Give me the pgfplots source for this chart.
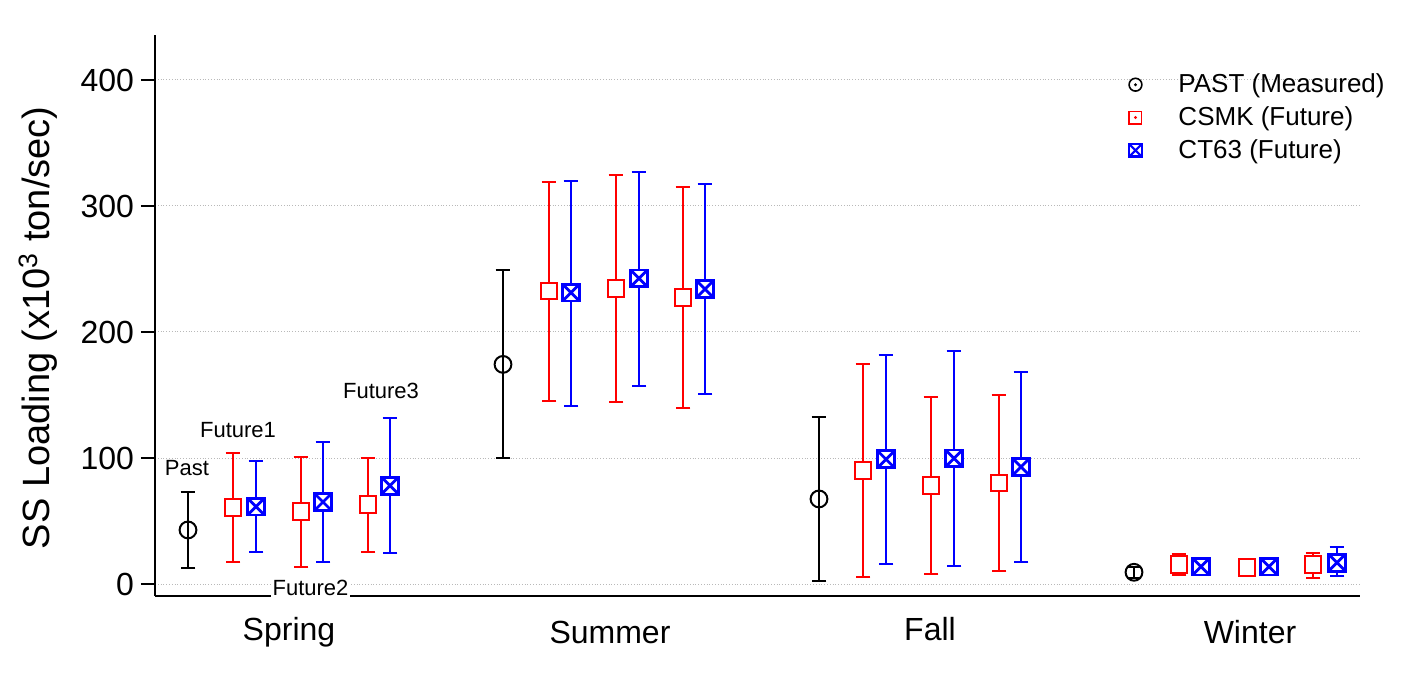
\documentclass[border=0pt]{standalone}
\usepackage{pgfplots}
\pgfplotsset{compat=1.18}
\usepackage{pgfplotstable}
\usepackage{fontspec}
\setmainfont{Liberation Sans}

\pgfdeclareplotmark{sqx}{%
  \pgfpathrectangle{\pgfqpoint{-\pgfplotmarksize}{-\pgfplotmarksize}}{\pgfqpoint{2\pgfplotmarksize}{2\pgfplotmarksize}}%
  \pgfusepathqfillstroke
  \pgfpathmoveto{\pgfqpoint{-\pgfplotmarksize}{-\pgfplotmarksize}}\pgfpathlineto{\pgfqpoint{\pgfplotmarksize}{\pgfplotmarksize}}%
  \pgfpathmoveto{\pgfqpoint{-\pgfplotmarksize}{\pgfplotmarksize}}\pgfpathlineto{\pgfqpoint{\pgfplotmarksize}{-\pgfplotmarksize}}%
  \pgfusepathqstroke}
\pgfdeclareplotmark{sqdot}{%
  \pgfpathrectangle{\pgfqpoint{-\pgfplotmarksize}{-\pgfplotmarksize}}{\pgfqpoint{2\pgfplotmarksize}{2\pgfplotmarksize}}%
  \pgfusepathqfillstroke
  \pgfpathcircle{\pgfpointorigin}{0.25pt}\pgfusepathqstroke}
\pgfdeclareplotmark{odot}{%
  \pgfpathcircle{\pgfpointorigin}{\pgfplotmarksize}\pgfusepathqfillstroke
  \pgfpathcircle{\pgfpointorigin}{0.25pt}\pgfusepathqstroke}

% x = horizontal position of each estimate, y = mean, hi/lo = ends of the range
\pgfplotstableread{
x    y     hi    lo
188  42.9  73.0  12.7
503  174.3 249.5 99.7
819  67.5  132.5 2.6
1134 9.3   13.5  5.0
}\past
\pgfplotstableread{
x    y     hi    lo
233  60.6  104.2 17.2
301  57.4  101.0 13.8
368  63.0  100.3 25.7
549  232.5 318.8 145.5
616  234.6 324.6 144.7
683  227.5 315.0 139.4
863  90.0  174.6 5.3
931  78.0  148.2 7.9
999  80.2  150.3 10.3
1179 15.6  23.6  7.1
1247 13.2  17.5  9.0
1313 15.6  24.4  5.0
}\csmk
\pgfplotstableread{
x    y     hi    lo
256  61.4  97.6  25.1
323  65.1  112.7 17.7
390  78.0  131.7 24.9
571  231.2 320.1 141.5
639  242.6 327.2 157.1
705  234.1 317.7 150.8
886  99.0  181.7 15.6
954  99.7  185.2 14.0
1021 92.9  168.5 17.7
1201 13.8  18.5  9.0
1269 13.8  18.5  9.0
1337 16.9  29.1  6.3
}\ctsix

\begin{document}
\begin{tikzpicture}
\begin{axis}[
  scale only axis,
  width=602.5pt, height=280.5pt,
  xmin=155, xmax=1360,
  ymin=-9.52, ymax=435.7,
  axis x line=bottom, axis y line=left,
  axis line style={-, line width=1pt, black},
  xtick={289,610,930,1250},
  xticklabels={Spring,{\raisebox{-1.5pt}{Summer}},Fall,{\raisebox{-1.5pt}{Winter}}},
  x tick style={draw=none},
  xticklabel style={font=\fontsize{16}{19}\selectfont, anchor=base, yshift=-15pt},
  ytick={0,100,200,300,400},
  y tick style={line width=1pt, black},
  tick align=outside,
  major tick length=7pt,
  yticklabel style={font=\fontsize{16}{19}\selectfont},
  /pgf/number format/assume math mode=true,
  ymajorgrids,
  grid style={densely dotted, gray!55, line width=0.5pt},
  ylabel={SS Loading (x10\textsuperscript{3} ton/sec)},
  ylabel style={font=\fontsize{19}{22}\selectfont, at={(axis description cs:-0.097,0.478)}, anchor=center},
  legend style={draw=none, fill=none, at={(axis cs:1112,411.6)}, anchor=north west,
    font=\fontsize{13}{15}\selectfont, row sep=1.5pt, cells={anchor=west}},
  legend image code/.code={%
    \path[draw=none, fill=none] (0cm,0cm) -- (0.3cm+19.5pt,0cm);
    \draw[#1] plot[only marks] coordinates {(0.3cm,0cm)};},
  error bars/y dir=both, error bars/y explicit,
  error bars/error bar style={line width=1pt},
  error bars/error mark options={rotate=90, mark size=3.7pt, line width=1pt},
]
\addplot[black, only marks, mark=o, mark size=4.2pt, line width=1pt, mark options={fill=white},
  forget plot]
  table[x=x, y=y, y error plus expr=\thisrow{hi}-\thisrow{y}, y error minus expr=\thisrow{y}-\thisrow{lo}] {\past};
\addplot[red, only marks, mark=square*, mark size=4.2pt, line width=1pt, mark options={fill=white},
  forget plot]
  table[x=x, y=y, y error plus expr=\thisrow{hi}-\thisrow{y}, y error minus expr=\thisrow{y}-\thisrow{lo}] {\csmk};
\addplot[blue, only marks, mark=sqx, mark size=4.2pt, line width=1pt, mark options={fill=white, line width=1.4pt},
  forget plot]
  table[x=x, y=y, y error plus expr=\thisrow{hi}-\thisrow{y}, y error minus expr=\thisrow{y}-\thisrow{lo}] {\ctsix};

\addlegendimage{black, mark=odot, mark size=3.2pt, line width=0.8pt, mark options={fill=white}}
\addlegendentry{PAST (Measured)}
\addlegendimage{red, mark=sqdot, mark size=3.1pt, line width=0.8pt, mark options={fill=white}}
\addlegendentry{CSMK (Future)}
\addlegendimage{blue, mark=sqx, mark size=3.1pt, line width=1.1pt, mark options={fill=white}}
\addlegendentry{CT63 (Future)}

\node[font=\fontsize{11}{13}\selectfont] at (axis cs:187,92) {Past};
\node[font=\fontsize{11}{13}\selectfont] at (axis cs:238,122) {Future1};
\node[font=\fontsize{11}{13}\selectfont, fill=white, inner sep=1pt] at (axis cs:310.5,-3.2) {Future2};
\node[font=\fontsize{11}{13}\selectfont] at (axis cs:381,153) {Future3};
\end{axis}
\pgfresetboundingbox
\useasboundingbox (-77.5pt,-40pt) rectangle (634.5pt,298pt);
\end{tikzpicture}
\end{document}
